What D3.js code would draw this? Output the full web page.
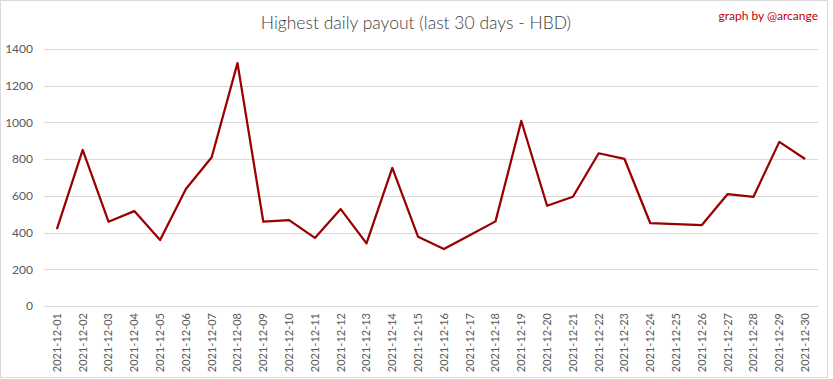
<!DOCTYPE html>
<html lang="en">

<head>
    <meta charset="UTF-8">
    <title>Highest daily payout</title>
    <script src="https://cdn.jsdelivr.net/npm/d3@7"></script>

    <style>
        body { margin: 0; background: #fff; }

        .grid line { stroke: #d9d9d9; stroke-width: 1px; }

        .axis text {
            font-family: Lato, "Liberation Sans", sans-serif;
            fill: #595959;
        }

        .title {
            font-family: Lato, "Liberation Sans", sans-serif;
            font-weight: 300;
            font-size: 17.5px;
            fill: #404040;
        }

        .credit {
            font-family: Lato, "Liberation Sans", sans-serif;
            font-size: 12px;
            fill: #c00000;
        }
    </style>
</head>

<body>

    <svg width="833" height="379"></svg>

    <script>

        var dates = [
            "2021-12-01", "2021-12-02", "2021-12-03", "2021-12-04", "2021-12-05",
            "2021-12-06", "2021-12-07", "2021-12-08", "2021-12-09", "2021-12-10",
            "2021-12-11", "2021-12-12", "2021-12-13", "2021-12-14", "2021-12-15",
            "2021-12-16", "2021-12-17", "2021-12-18", "2021-12-19", "2021-12-20",
            "2021-12-21", "2021-12-22", "2021-12-23", "2021-12-24", "2021-12-25",
            "2021-12-26", "2021-12-27", "2021-12-28", "2021-12-29", "2021-12-30"
        ];

        var payouts = [
            419, 850, 459, 517, 359, 637, 810, 1323, 459, 468,
            371, 528, 341, 752, 377, 310, 386, 461, 1008, 546,
            595, 832, 801, 451, 446, 441, 610, 595, 894, 801
        ];

        var yTicks = [0, 200, 400, 600, 800, 1000, 1200, 1400];

        var svg = d3.select("svg"),
            width = +svg.attr("width"),
            height = +svg.attr("height");

        var margin = { top: 49, right: 15, bottom: 73, left: 44 };

        // outer chart border
        svg.append("rect")
            .attr("x", 0.5).attr("y", 0.5)
            .attr("width", 827).attr("height", 377)
            .attr("fill", "#fff")
            .attr("stroke", "#d9d9d9");

        var x = d3.scaleBand()
            .domain(dates)
            .range([margin.left, width - margin.right]);

        var y = d3.scaleLinear()
            .domain([0, 1400])
            .range([height - margin.bottom, margin.top]);

        svg.append("g")
            .attr("class", "grid")
            .selectAll("line")
            .data(yTicks)
            .enter().append("line")
            .attr("x1", margin.left)
            .attr("x2", width - margin.right)
            .attr("y1", function(d) { return Math.round(y(d)) + 0.5; })
            .attr("y2", function(d) { return Math.round(y(d)) + 0.5; });

        var yAxis = svg.append("g")
            .attr("class", "axis")
            .attr("transform", "translate(" + (margin.left - 11) + ",0)")
            .call(d3.axisLeft(y).tickValues(yTicks).tickFormat(d3.format("d"))
                .tickSize(0).tickPadding(0));
        yAxis.select(".domain").remove();
        yAxis.selectAll("text").attr("font-size", 12);

        var xAxis = svg.append("g")
            .attr("class", "axis")
            .attr("transform", "translate(0," + (height - margin.bottom) + ")")
            .call(d3.axisBottom(x).tickSize(0).tickPadding(0));
        xAxis.select(".domain").remove();
        xAxis.selectAll("text")
            .attr("font-size", 11)
            .attr("text-anchor", "end")
            .attr("dy", "0.35em")
            .attr("transform", "translate(0,7) rotate(-90)");

        var line = d3.line()
            .x(function(d, i) { return x(dates[i]) + x.bandwidth() / 2; })
            .y(function(d) { return y(d); });

        svg.append("path")
            .datum(payouts)
            .attr("fill", "none")
            .attr("stroke", "#990000")
            .attr("stroke-width", 2.25)
            .attr("stroke-linejoin", "round")
            .attr("d", line);

        svg.append("text")
            .attr("class", "title")
            .attr("x", 416)
            .attr("y", 29)
            .attr("text-anchor", "middle")
            .text("Highest daily payout (last 30 days - HBD)");

        svg.append("text")
            .attr("class", "credit")
            .attr("x", 818)
            .attr("y", 20)
            .attr("text-anchor", "end")
            .text("graph by @arcange");

    </script>

</body>

</html>
